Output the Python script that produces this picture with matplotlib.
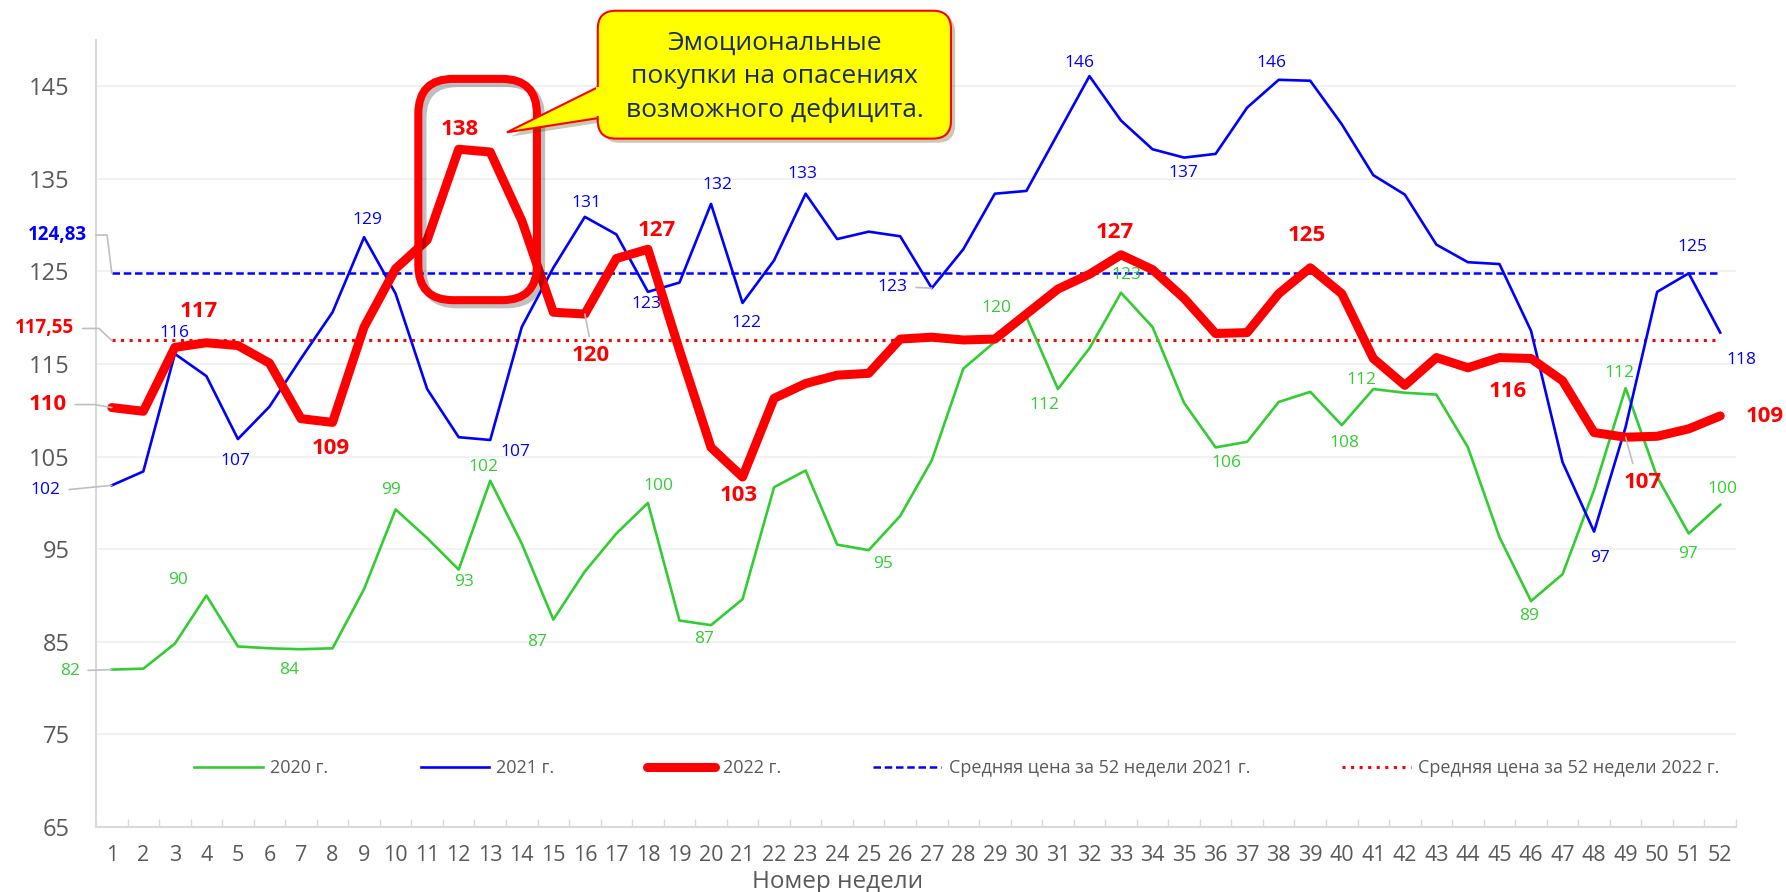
import numpy as np
import matplotlib
matplotlib.use('Agg')
import matplotlib.pyplot as plt
import matplotlib.patches as mpatches
import matplotlib.patheffects as pe
from matplotlib.transforms import IdentityTransform

plt.rcParams['font.family'] = ['Open Sans', 'DejaVu Sans']

# ---- data ----
weeks = np.arange(1, 53)

price_2020 = [82.0, 82.1, 84.8, 90.0, 84.5, 84.3, 84.2, 84.3, 90.7, 99.3,
              96.2, 92.8, 102.4, 95.6, 87.4, 92.6, 96.7, 100.0, 87.3, 86.8,
              89.6, 101.7, 103.5, 95.5, 94.9, 98.6, 104.6, 114.5, 117.4, 120.1,
              112.3, 116.7, 122.7, 119.0, 110.8, 106.0, 106.6, 110.9, 112.0, 108.4,
              112.3, 111.9, 111.7, 106.0, 96.3, 89.4, 92.3, 101.4, 112.4, 102.8,
              96.7, 99.8]

price_2021 = [101.9, 103.4, 116.1, 113.7, 106.9, 110.4, 115.6, 120.6, 128.7, 122.6,
              112.3, 107.1, 106.8, 119.0, 125.4, 130.9, 129.0, 122.8, 123.8, 132.3,
              121.6, 126.2, 133.4, 128.5, 129.3, 128.8, 123.2, 127.4, 133.4, 133.7,
              139.9, 146.1, 141.3, 138.2, 137.3, 137.7, 142.7, 145.7, 145.6, 140.9,
              135.4, 133.3, 127.9, 126.0, 125.8, 118.6, 104.4, 96.9, 108.2, 122.8,
              124.8, 118.4]

price_2022 = [110.3, 109.9, 116.8, 117.3, 117.0, 115.1, 109.1, 108.7, 119.0, 125.3,
              128.4, 138.2, 137.9, 130.5, 120.6, 120.4, 126.4, 127.4, 116.5, 106.0,
              102.8, 111.3, 112.9, 113.8, 114.0, 117.7, 117.9, 117.6, 117.7, 120.4,
              123.1, 124.7, 126.8, 125.2, 122.1, 118.3, 118.4, 122.6, 125.4, 122.6,
              115.6, 112.7, 115.7, 114.6, 115.7, 115.6, 113.2, 107.6, 107.1, 107.2,
              108.0, 109.4]

avg_2021 = 124.83
avg_2022 = 117.55

y_ticks = [65, 75, 85, 95, 105, 115, 125, 135, 145]
series_names = ['2020 г.', '2021 г.', '2022 г.',
                'Средняя цена за 52 недели 2021 г.',
                'Средняя цена за 52 недели 2022 г.']
x_title = 'Номер недели'
callout_text = 'Эмоциональные\nпокупки на опасениях\nвозможного дефицита.'

# label placement: week -> offset of label centre from the point, pixels
lbl_2020 = {1: (-42, -1), 4: (-28, 16), 7: (-12, -21), 10: (-5, 19), 12: (5, -12),
            13: (-7, 14), 15: (-16, -22), 18: (10, 17), 20: (-7, -14), 25: (14, -14),
            30: (-30, 9), 31: (-14, -16), 33: (5, 18), 36: (11, -16), 40: (3, -18),
            41: (-12, 9), 46: (-2, -15), 49: (-6, 15), 51: (-1, -21), 52: (2, 16)}
lbl_2021 = {1: (-66, -5), 3: (0, 21), 5: (-3, -22), 9: (3, 17), 13: (25, -12),
            16: (2, 14), 18: (-2, -12), 20: (6, 19), 21: (4, -20), 23: (-3, 20),
            27: (-39, 1), 32: (-10, 13), 35: (-1, -15), 38: (-7, 17), 48: (6, -26),
            51: (4, 26), 52: (21, -27)}
lbl_2022 = {1: (-64, 3), 4: (-8, 31), 8: (-2, -26), 12: (1, 20), 16: (6, -41),
            18: (9, 19), 21: (-4, -18), 33: (-6, 22), 39: (-3, 32), 46: (-23, -33),
            49: (17, -45), 52: (45, -1)}

GREEN = '#33CC33'
BLUE = '#0000FF'
RED = '#FF0000'
GRAY = '#595959'
LEAD = '#BFBFBF'


def leader(style='arc3', relpos=(1, 0.5)):
    return dict(arrowstyle='-', color=LEAD, lw=1.2, shrinkA=4, shrinkB=0,
                connectionstyle=style, relpos=relpos)


# leaders for some labels (Excel style)
lead_2020 = {1: leader()}
lead_2021 = {1: leader(), 27: leader()}
lead_2022 = {1: leader('angle,angleA=0,angleB=170,rad=0'),
             16: leader(relpos=(0.5, 1)),
             49: leader(relpos=(0.3, 1))}


def put_labels(ax, series, places, leads, color, size, bold=False):
    for w, (dx, dy) in places.items():
        v = series[w - 1]
        kw = {}
        if w in leads:
            kw['arrowprops'] = leads[w]
        ax.annotate(f'{v:.0f}', (w, v), xytext=(dx, dy),
                    textcoords='offset pixels', ha='center', va='center',
                    color=color, fontsize=size,
                    fontweight='bold' if bold else 'normal',
                    zorder=7, annotation_clip=False, **kw)


fig = plt.figure(figsize=(17.86, 8.92), dpi=100)
ax = fig.add_axes([96 / 1786, 65 / 892, 1640 / 1786, 787 / 892])

l20, = ax.plot(weeks, price_2020, color=GREEN, lw=1.9, zorder=3)
l21, = ax.plot(weeks, price_2021, color=BLUE, lw=1.9, zorder=3)
l22, = ax.plot(weeks, price_2022, color=RED, lw=6.5, zorder=4,
               solid_capstyle='round', solid_joinstyle='round')
la21, = ax.plot(weeks, np.full(len(weeks), avg_2021), color=BLUE, lw=1.8,
                linestyle=(0, (3, 1.5)), zorder=2)
la22, = ax.plot(weeks, np.full(len(weeks), avg_2022), color=RED, lw=2.2,
                linestyle=(0, (1, 1.8)), zorder=2)

ax.set_xlim(0.5, 52.5)
ax.set_ylim(65, 150)

ax.set_yticks(y_ticks)
ax.set_xticks(weeks)
ax.set_xticks(np.arange(0.5, 53, 1), minor=True)
ax.tick_params(axis='y', length=0, pad=19, labelsize=17, labelcolor=GRAY)
ax.tick_params(axis='x', which='major', length=0, pad=13, labelsize=15.5,
               labelcolor=GRAY)
ax.tick_params(axis='x', which='minor', direction='in', length=6, width=1,
               color='#D9D9D9')

for s in ('top', 'right'):
    ax.spines[s].set_visible(False)
for s in ('left', 'bottom'):
    ax.spines[s].set_color('#D9D9D9')
    ax.spines[s].set_linewidth(1.5)

ax.yaxis.grid(True, color='#EFEFEF', lw=1.2)
ax.set_axisbelow(True)

ax.set_xlabel(x_title, fontsize=17.5, color=GRAY)
ax.xaxis.set_label_coords(0.452, -0.07)
ax.xaxis.label.set_va('center')

# data labels
put_labels(ax, price_2020, lbl_2020, lead_2020, GREEN, 12.5)
put_labels(ax, price_2021, lbl_2021, lead_2021, BLUE, 12.5)
put_labels(ax, price_2022, lbl_2022, lead_2022, RED, 16, bold=True)

# labels of the averages
ax.annotate(f'{avg_2021:.2f}'.replace('.', ','), (weeks[0], avg_2021),
            xytext=(-54, 38), textcoords='offset pixels', ha='center',
            va='center', color=BLUE, fontsize=13.5, fontweight='bold',
            annotation_clip=False, zorder=7,
            arrowprops=leader('angle,angleA=0,angleB=97,rad=0'))
ax.annotate(f'{avg_2022:.2f}'.replace('.', ','), (weeks[0], avg_2022),
            xytext=(-67, 12), textcoords='offset pixels', ha='center',
            va='center', color=RED, fontsize=13.5, fontweight='bold',
            annotation_clip=False, zorder=7,
            arrowprops=leader('angle,angleA=0,angleB=137,rad=0'))

ax.legend([l20, l21, l22, la21, la22], series_names, loc='center',
          bbox_to_anchor=(0.525, 0.075), ncol=5, frameon=False, fontsize=13,
          handlelength=3.8, handletextpad=0.4, columnspacing=5.1,
          labelcolor=GRAY)

# ---- highlight frame and callout (pixel space) ----
to_px = ax.transData.transform
shadow = [pe.SimplePatchShadow(offset=(3, -3), alpha=0.3), pe.Normal()]
line_shadow = [pe.SimpleLineShadow(offset=(3, -3), alpha=0.25,
                                   shadow_color='k'), pe.Normal()]

(fx0, fy0), (fx1, fy1) = to_px([(10.72, 121.9), (14.48, 145.8)])
frame = mpatches.FancyBboxPatch((fx0, fy0), fx1 - fx0, fy1 - fy0,
                                boxstyle='round,pad=0,rounding_size=35',
                                fill=False, ec=RED, lw=5.8,
                                transform=IdentityTransform(), zorder=8,
                                path_effects=line_shadow)
fig.add_artist(frame)

(bx0, by0), (bx1, by1) = to_px([(16.41, 139.35), (27.61, 153.16)])
(tx, ty), (_, pa), (_, pb) = to_px([(13.53, 140.03), (16.41, 145.06),
                                    (16.41, 141.61)])
tri = mpatches.Polygon([(tx, ty), (bx0 + 3, pa), (bx0 + 3, pb)], closed=True,
                       fc='#FFFF00', ec=RED, lw=1.5,
                       transform=IdentityTransform(), zorder=9,
                       path_effects=shadow)
fig.add_artist(tri)
box = mpatches.FancyBboxPatch((bx0, by0), bx1 - bx0, by1 - by0,
                              boxstyle='round,pad=0,rounding_size=18',
                              fc='#FFFF00', ec=RED, lw=1.5,
                              transform=IdentityTransform(), zorder=9.1,
                              path_effects=shadow)
fig.add_artist(box)
patch = mpatches.Rectangle((bx0 - 2, pb + 1.2), 6, pa - pb - 2.4,
                           fc='#FFFF00', ec='none',
                           transform=IdentityTransform(), zorder=9.2)
fig.add_artist(patch)
fig.text((bx0 + bx1) / 2, (by0 + by1) / 2 - 2, callout_text,
         transform=IdentityTransform(), ha='center', va='center',
         fontsize=19, linespacing=1.42, color='#172B5F', zorder=10)

fig.savefig('out.png', dpi=100)
